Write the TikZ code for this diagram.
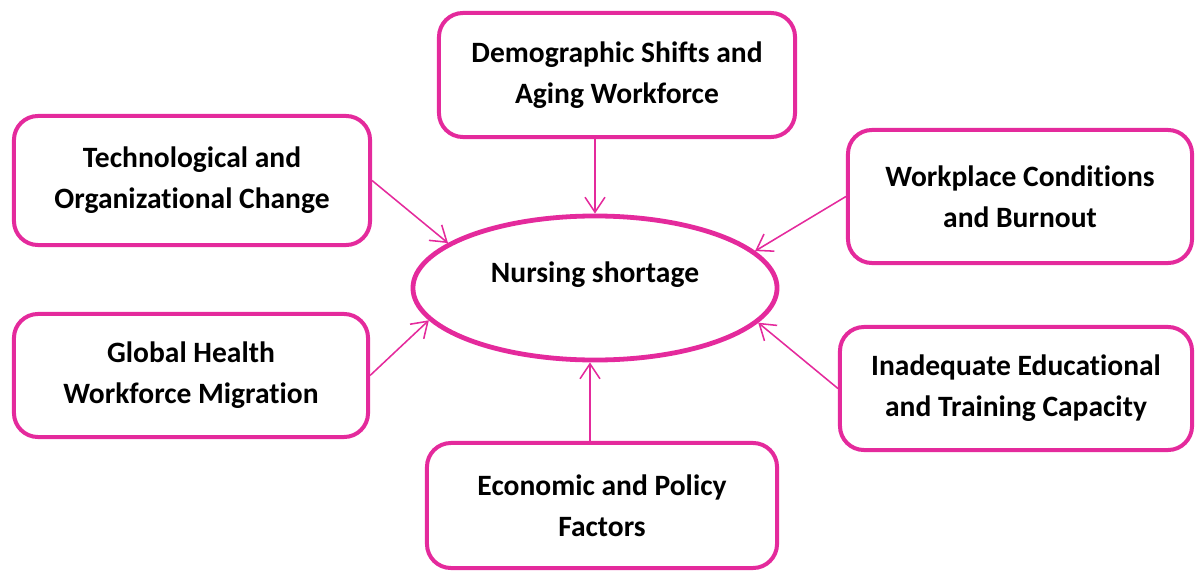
\documentclass[tikz,border=0pt]{standalone}
\usepackage{fontspec}
\setmainfont[Ligatures=NoCommon]{Carlito}
\usetikzlibrary{arrows.meta,shapes.geometric}
\definecolor{pinkline}{RGB}{228,42,156}

\begin{document}
\begin{tikzpicture}[x=0.025cm, y=-0.025cm,
    factor/.style={rectangle, rounded corners=0.6cm, draw=pinkline, line width=0.1cm, align=center, inner sep=0pt, font=\bfseries\fontsize{21}{29}\selectfont},
    arrow/.style={draw=pinkline, line width=1.1pt, -{Straight Barb[length=0.375cm, width=0.5cm]}}]

        \useasboundingbox (0,0) rectangle (1201,571);

        \node[ellipse, draw=pinkline, line width=0.12cm, minimum width=9.1cm, minimum height=3.6cm, inner sep=0pt, text height=0.5cm, text depth=0.8cm, font=\bfseries\fontsize{21}{29}\selectfont] (short) at (595,288) {Nursing shortage};

        \node[factor, minimum width=8.9cm, minimum height=3.1cm] (demo) at (617,75) {Demographic Shifts and\\Aging Workforce};
        \node[factor, minimum width=8.9cm, minimum height=3.225cm] (tech) at (192,180.5) {Technological and\\Organizational Change};
        \node[factor, minimum width=8.6cm, minimum height=3.325cm] (work) at (1020,196.5) {Workplace Conditions\\and Burnout};
        \node[factor, minimum width=8.85cm, minimum height=3.075cm] (global) at (191,375.5) {Global Health\\Workforce Migration};
        \node[factor, minimum width=8.8cm, minimum height=3.075cm] (inad) at (1016,388.5) {Inadequate Educational\\and Training Capacity};
        \node[factor, minimum width=8.75cm, minimum height=3.125cm] (econ) at (602,505.5) {Economic and Policy\\Factors};

        \draw[arrow] (demo.south -| short.north) -- (short.north);
        \draw[arrow] (tech.east) -- (short.163);
        \draw[arrow] (work.west) -- (short.13);
        \draw[arrow] (global.east) -- (short.191);
        \draw[arrow] (inad.west) -- (short.348);
        \draw[arrow] ([xshift=-0.125cm]econ.north -| short.south) -- ([xshift=-0.125cm]short.south);

\end{tikzpicture}
\end{document}
